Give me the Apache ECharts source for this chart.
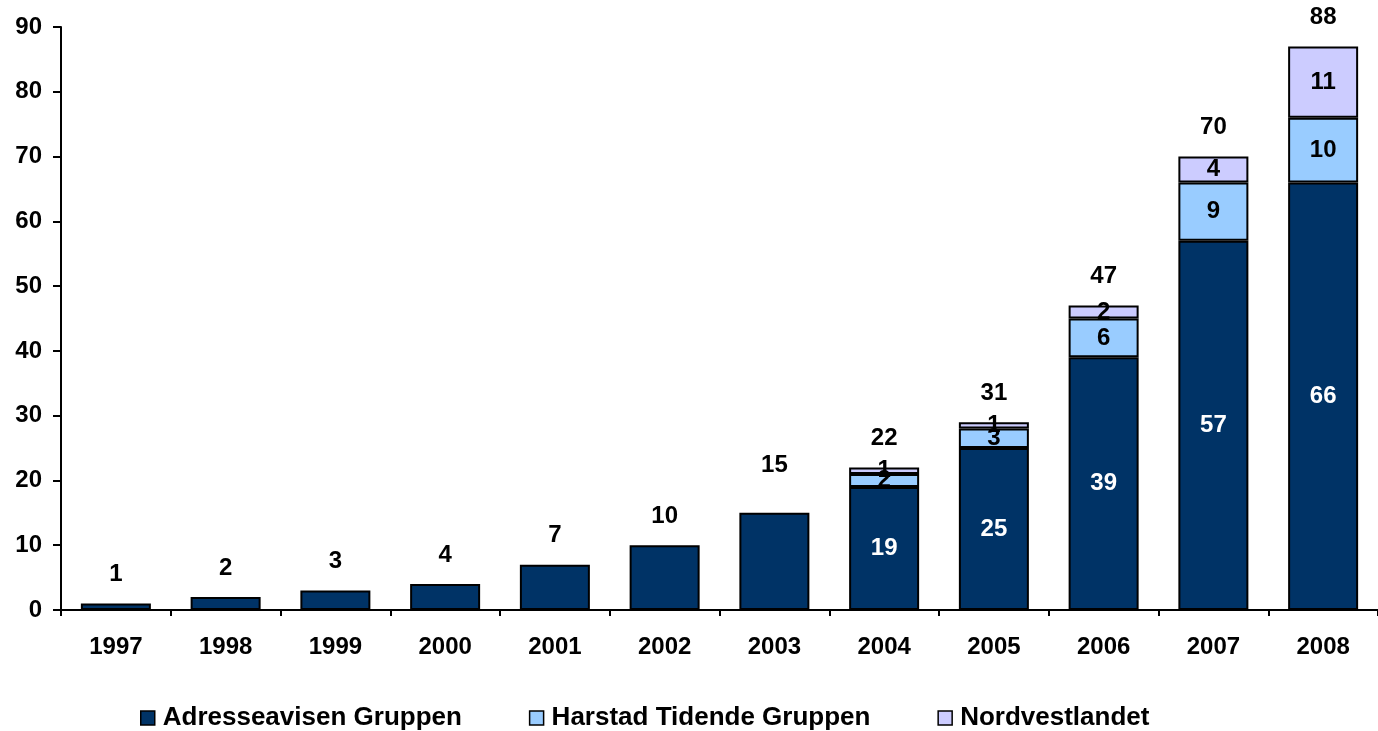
<!DOCTYPE html>
<html>
<head>
<meta charset="utf-8">
<script src="https://cdn.jsdelivr.net/npm/echarts@6/dist/echarts.min.js"></script>
<style>
html,body{margin:0;padding:0;background:#fff;}
#chart{width:1378px;height:731px;}
</style>
</head>
<body>
<div id="chart"></div>
<script>
var years = ['1997','1998','1999','2000','2001','2002','2003','2004','2005','2006','2007','2008'];
var adresseavisen = [1, 2, 3, 4, 7, 10, 15, 19, 25, 39, 57, 66];
var harstad = [null, null, null, null, null, null, null, 2, 3, 6, 9, 10];
var nordvestlandet = [null, null, null, null, null, null, null, 1, 1, 2, 4, 11];
var totals = [1, 2, 3, 4, 7, 10, 15, 22, 31, 47, 70, 88];
var seriesNames = ['Adresseavisen Gruppen', 'Harstad Tidende Gruppen', 'Nordvestlandet'];
var yTicks = [0, 10, 20, 30, 40, 50, 60, 70, 80, 90];

var FONT = '"Liberation Sans", Arial, sans-serif';
var FS = 24;
var chart = echarts.init(document.getElementById('chart'), null, {renderer: 'canvas'});

var border = {borderColor: '#000', borderWidth: 2};

var dark = adresseavisen.map(function (v, i) {
  return {value: v, label: {show: harstad[i] !== null}};
});

var totalData = totals.map(function (t, i) {
  var d = {value: 0};
  if (years[i] === '2003') d.label = {distance: 35};
  return d;
});

var option = {
  animation: false,
  backgroundColor: '#fff',
  textStyle: {fontFamily: FONT},
  grid: {left: 61, top: 27, width: 1330, height: 583, containLabel: false},
  legend: {
    data: seriesNames,
    left: 135,
    top: 700,
    itemWidth: 14,
    itemHeight: 14,
    itemGap: 67,
    icon: 'rect',
    itemStyle: {borderColor: '#000', borderWidth: 1.5},
    textStyle: {fontFamily: FONT, fontWeight: 'bold', fontSize: 26, color: '#000', padding: [0, 0, 0, 3]}
  },
  xAxis: {
    type: 'category',
    data: years,
    boundaryGap: true,
    axisLine: {lineStyle: {color: '#000', width: 2}},
    axisTick: {show: true, length: 6, lineStyle: {color: '#000', width: 2}},
    axisLabel: {color: '#000', fontWeight: 'bold', fontSize: FS, fontFamily: FONT, margin: 25},
    splitLine: {show: false}
  },
  yAxis: {
    type: 'value',
    min: 0,
    max: 90,
    interval: 10,
    axisLine: {show: true, lineStyle: {color: '#000', width: 2}},
    axisTick: {show: true, length: 8, lineStyle: {color: '#000', width: 2}},
    axisLabel: {color: '#000', fontWeight: 'bold', fontSize: FS, fontFamily: FONT, margin: 19,
      formatter: function (v) { return yTicks.indexOf(v) >= 0 ? String(v) : ''; }},
    splitLine: {show: false}
  },
  series: [
    {
      name: seriesNames[0], type: 'bar', stack: 'a', barWidth: 70,
      itemStyle: Object.assign({color: '#003366'}, border),
      label: {show: true, position: 'inside', color: '#fff', fontWeight: 'bold', fontSize: FS, fontFamily: FONT},
      data: dark
    },
    {
      name: seriesNames[1], type: 'bar', stack: 'a', barWidth: 70,
      itemStyle: Object.assign({color: '#99CCFF'}, border),
      label: {show: true, position: 'inside', color: '#000', fontWeight: 'bold', fontSize: FS, fontFamily: FONT},
      data: harstad
    },
    {
      name: seriesNames[2], type: 'bar', stack: 'a', barWidth: 70,
      itemStyle: Object.assign({color: '#CCCCFF'}, border),
      label: {show: true, position: 'inside', color: '#000', fontWeight: 'bold', fontSize: FS, fontFamily: FONT},
      data: nordvestlandet
    },
    {
      name: 'total', type: 'bar', stack: 'a', barWidth: 70,
      itemStyle: {color: 'rgba(0,0,0,0)', borderWidth: 0},
      label: {show: true, position: 'top', distance: 17, color: '#000', fontWeight: 'bold', fontSize: FS, fontFamily: FONT,
        formatter: function (p) { return String(totals[p.dataIndex]); }},
      data: totalData,
      silent: true
    }
  ]
};
chart.setOption(option);
</script>
</body>
</html>
